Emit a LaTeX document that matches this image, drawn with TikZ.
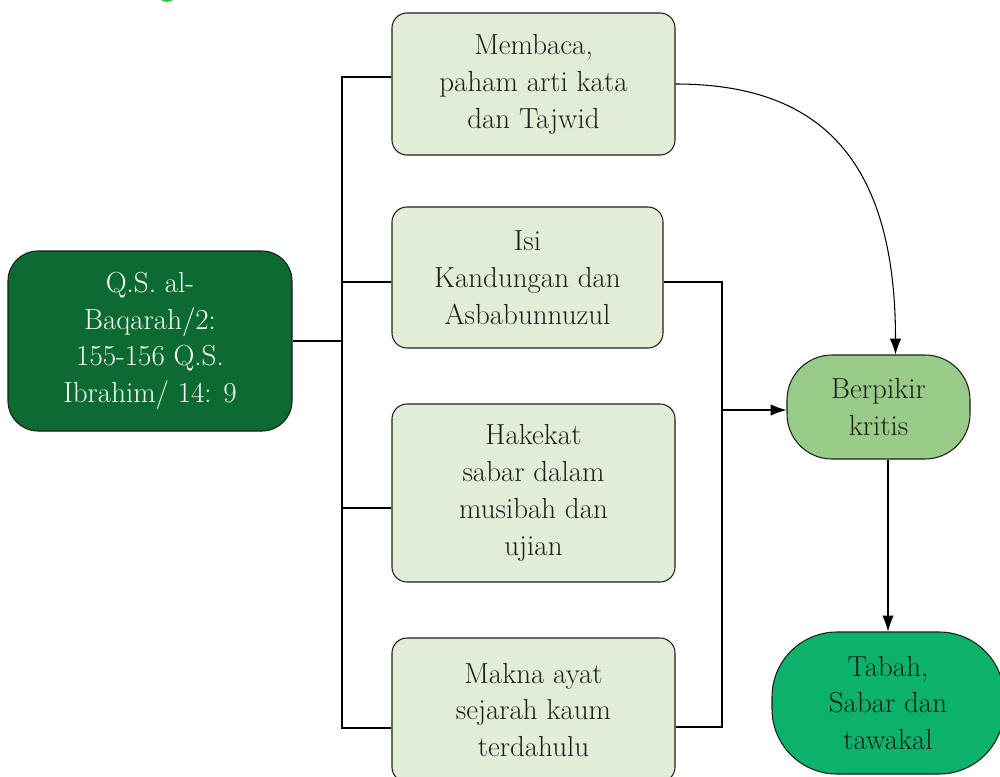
\documentclass[tikz,border=0pt]{standalone}
\usepackage{xcolor}
\definecolor{darkgreen}{HTML}{0B6B30}
\definecolor{palegreen}{HTML}{E1EDD7}
\definecolor{midgreen}{HTML}{98CB88}
\definecolor{brightgreen}{HTML}{0BB36A}
\definecolor{markgreen}{HTML}{3CC04A}
\definecolor{textdark}{HTML}{1E1B1C}
\usepackage{tikz}
\usetikzlibrary{arrows.meta,positioning,calc}

\begin{document}
\begin{tikzpicture}[x=0.2mm, y=-0.2mm, line width=0.6pt,
    every node/.style={font=\fontsize{16.5}{21}\selectfont, align=center, text=textdark},
    topicbox/.style={rectangle, draw=textdark, fill=palegreen, rounded corners=3mm, minimum width=56.6mm},
    arr/.style={-{Latex[length=9pt,width=6.5pt]}}]
        \useasboundingbox (0,0) rectangle (1000,776);
        % heading mark, cut off at the top
        \fill[markgreen] (167,-9) circle (11);
        % source and topics
        \node[rectangle, draw=textdark, fill=darkgreen, rounded corners=6mm, minimum width=56.8mm, minimum height=36mm, text=white] (src) at (150,341) {Q.S. al-\\Baqarah/2:\\155-156 Q.S.\\Ibrahim/ 14: 9};
        \node[topicbox, minimum height=28.4mm] (b1) at (533.5,84) {Membaca,\\paham arti kata\\dan Tajwid};
        \node[topicbox, minimum width=54.2mm, minimum height=28.2mm] (b2) at (527.5,277.5) {Isi\\Kandungan dan\\Asbabunnuzul};
        \node[topicbox, minimum height=35.6mm] (b3) at (533.5,493) {Hakekat\\sabar dalam\\musibah dan\\ujian};
        \node[topicbox, minimum height=28.8mm] (b4) at (533.5,710) {Makna ayat\\sejarah kaum\\terdahulu};
        % results
        \node[rectangle, draw=textdark, fill=midgreen, rounded corners=9mm, minimum width=36.6mm, minimum height=20.8mm] (bk) at (878.5,407) {Berpikir\\kritis};
        \node[rectangle, draw=textdark, fill=brightgreen, rounded corners=13mm, minimum width=46.4mm, minimum height=28.4mm] (tb) at (888,703) {Tabah,\\Sabar dan\\tawakal};
        % bus lines
        \coordinate (l1) at (342,77);
        \coordinate (l2) at (342,282);
        \coordinate (l3) at (342,508);
        \coordinate (l4) at (342,728);
        \coordinate (r2) at (722,282);
        \coordinate (rm) at (722,410);
        \coordinate (r4) at (722,727);
        \draw (src.east) -- (src.east -| l1);
        \draw (l1 -| b1.west) -- (l1) -- (l4) -- (l4 -| b4.west);
        \draw (l2) -- (l2 -| b2.west);
        \draw (l3) -- (l3 -| b3.west);
        \draw (r2 -| b2.east) -- (r2) -- (r4) -- (r4 -| b4.east);
        \draw[arr] (rm) -- (rm -| bk.west);
        \draw[arr] (b1.east) .. controls +(140,0) and +(0,-200) .. ([xshift=3.4mm]bk.north);
        \draw[arr] (bk.south -| tb.north) -- (tb.north);
      \end{tikzpicture}
\end{document}
